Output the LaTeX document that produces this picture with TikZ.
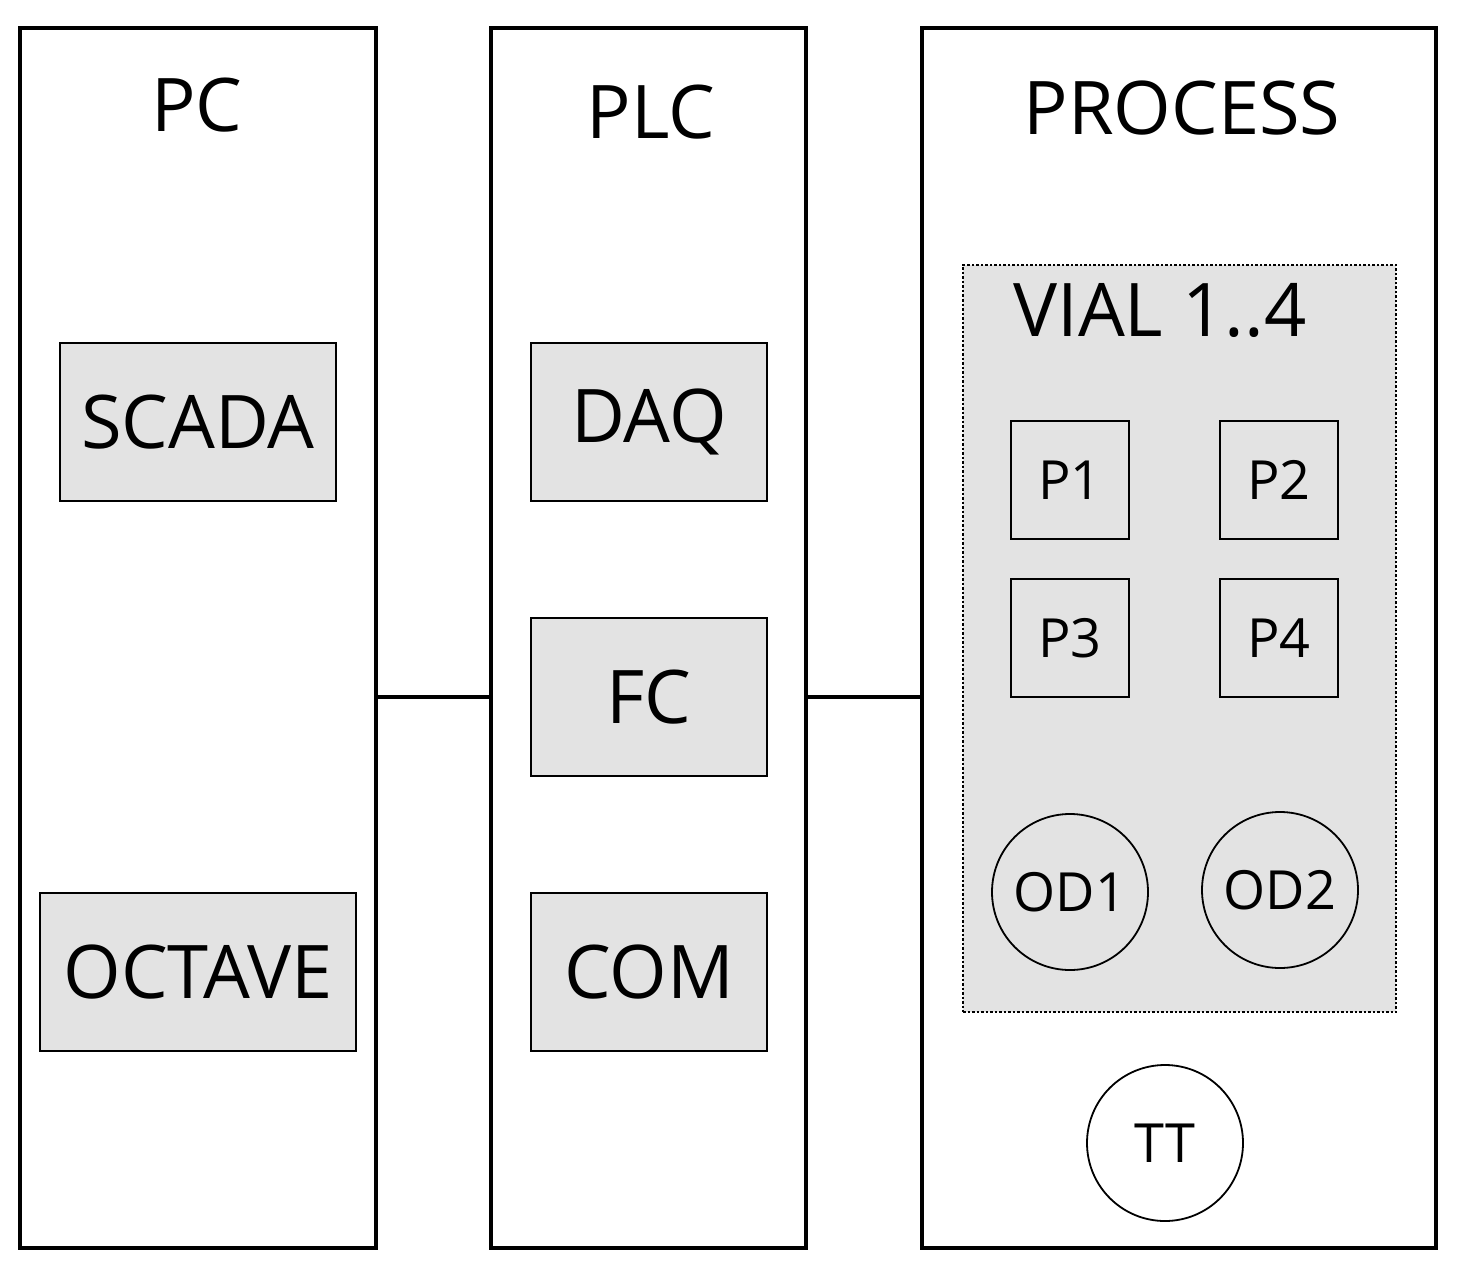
\documentclass[tikz,border=0pt]{standalone}
\usepackage{fontspec}
\setmainfont{Open Sans}
\usetikzlibrary{positioning}
\definecolor{boxgray}{HTML}{E3E3E3}
\tikzset{
  block/.style={draw, line width=4pt},
  unit/.style={draw, fill=boxgray, line width=2.5pt, inner sep=0pt},
  sensor/.style={draw, line width=1.8pt, inner sep=0pt},
  big/.style={font=\fontsize{74}{80}\selectfont},
  small/.style={font=\fontsize{54}{60}\selectfont},
}
\begin{document}
\begin{tikzpicture}[x=1pt, y=-1pt]
\useasboundingbox (0,0) rectangle (1461,1271);

% columns
\node[block, minimum width=356, minimum height=1220] (pc) at (198,638) {};
\node[block, minimum width=315, minimum height=1220] (plc) at (648.5,638) {};
\node[block, minimum width=514, minimum height=1220] (proc) at (1179,638) {};
\node[big] (pclbl) at (197,105) {PC};
\node[big] (plclbl) at (651,112) {PLC};
\node[big] (proclbl) at (1182,108) {PROCESS};

% PC
\node[unit, big, minimum width=276, minimum height=158] (scada) at (198,422) {SCADA};
\node[unit, big, minimum width=316, minimum height=158] (octave) at (198,972) {OCTAVE};

% PLC
\node[unit, big, minimum width=236, minimum height=158] (daq) at (649,422) {DAQ};
\node[unit, big, minimum width=236, minimum height=158] (fc) at (649,697) {FC};
\node[unit, big, minimum width=236, minimum height=158] (com) at (649,972) {COM};

% vials
\node[draw, fill=boxgray, dotted, line width=2.5pt, minimum width=433, minimum height=747] (vial) at (1179.5,638.5) {};
\node[big] (viallbl) at (1160,310) {VIAL 1..4};
\node[unit, small, minimum size=118] (p1) at (1070,480) {P1};
\node[unit, small, minimum size=118] (p2) at (1279,480) {P2};
\node[unit, small, minimum size=118] (p3) at (1070,638) {P3};
\node[unit, small, minimum size=118] (p4) at (1279,638) {P4};
\node[sensor, circle, small, minimum size=156] (od1) at (1070,892) {OD1};
\node[sensor, circle, small, minimum size=156] (od2) at (1280,890) {OD2};
\node[sensor, circle, small, fill=white, minimum size=156] (tt) at (1165,1143) {TT};

% links
\draw[line width=4pt] (pc.east |- fc) -- (plc.west |- fc);
\draw[line width=4pt] (plc.east |- fc) -- (proc.west |- fc);
\end{tikzpicture}
\end{document}
